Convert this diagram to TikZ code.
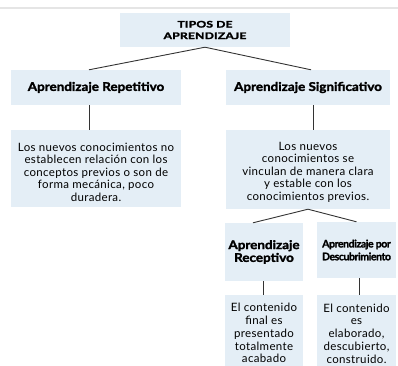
\documentclass[tikz,border=0pt]{standalone}
\usepackage{fontspec}
\setmainfont{Lato}
\newfontfamily\bodyfont[LetterSpace=3]{Lato}
\newfontfamily\heavyfont[FakeBold=2,FakeStretch=1.12]{Lato Bold}
\newfontfamily\titlefont[FakeBold=2.5,FakeStretch=1.35,LetterSpace=2]{Lato Bold}
\newfontfamily\narrowfont[FakeBold=1.5,LetterSpace=-4]{Lato Bold}
\definecolor{boxblue}{HTML}{E4EEF6}
\definecolor{linegray}{HTML}{333333}
\tikzset{
  panel/.style={fill=boxblue},
  box/.style={inner sep=2pt,align=center,font=\bodyfont\fontsize{11.5}{12.5}\selectfont},
  smallbox/.style={box,font=\bodyfont\fontsize{11.5}{12.8}\selectfont},
  head/.style={panel,box,font=\heavyfont\fontsize{12}{12.8}\selectfont},
  link/.style={draw=linegray,line width=0.9pt}
}
\begin{document}
\begin{tikzpicture}[x=1pt,y=-1pt]
\useasboundingbox (0,0) rectangle (398,365);
\clip (0,0) rectangle (398,365);
\draw[black!10,line width=1.5pt] (0,8) -- (398,8);

\node[panel,minimum width=170pt,minimum height=34pt] (tipos) at (205,30) {};
\node[align=center,font=\titlefont\fontsize{9}{11.5}\selectfont] (tipostext) at (205,30) {TIPOS DE\\APRENDIZAJE};
\node[head,minimum width=170pt,minimum height=35pt] (repet) at (96,87.5) {Aprendizaje Repetitivo};
\node[head,minimum width=164pt,minimum height=35pt] (signif) at (308,87.5) {Aprendizaje Significativo};

\node[panel,minimum width=170pt,minimum height=77pt] (repetdesc) at (96,168.5) {};
\node[box] (repettext) at (96,172) {Los nuevos conocimientos no\\establecen relación con los\\conceptos previos o son de\\forma mecánica, poco\\duradera.};
\node[panel,minimum width=164pt,minimum height=79pt] (signifdesc) at (308,169.5) {};
\node[box] (signiftext) at (308,172) {Los nuevos\\conocimientos se\\vinculan de manera clara\\y estable con los\\conocimientos previos.};

\node[head,minimum width=78pt,minimum height=58pt] (recep) at (264,252) {Aprendizaje\\Receptivo};
\node[head,minimum width=79pt,minimum height=56pt,font=\narrowfont\fontsize{10.5}{12.8}\selectfont] (descub) at (356.5,250) {Aprendizaje por\\Descubrimiento};

\node[panel,minimum width=78pt,minimum height=80pt] (recepdesc) at (264,335) {};
\node[smallbox] (receptext) at (264,333) {El contenido\\final es\\presentado\\totalmente\\acabado};
\node[panel,minimum width=79pt,minimum height=80pt] (descubdesc) at (356.5,335) {};
\node[smallbox] (descubtext) at (356.5,333.5) {El contenido\\es\\elaborado,\\descubierto,\\construido.};

\draw[link] (tipos.south) -- ([xshift=-7pt]repet.north);
\draw[link] (tipos.south) -- ([xshift=3pt]signif.north);
\draw[link] ([xshift=-7pt]repet.south) -- ([xshift=-7pt]repetdesc.north);
\draw[link] ([xshift=5pt]signif.south) -- ([xshift=5pt]signifdesc.north);
\draw[link] (signifdesc.south) -- ([xshift=-11pt]recep.north);
\draw[link] (signifdesc.south) -- (descub.north);
\draw[link] ([xshift=-1pt]recep.south) -- ([xshift=-1pt]recepdesc.north);
\draw[link] ([xshift=2.5pt]descub.south) -- ([xshift=2.5pt]descubdesc.north);
\end{tikzpicture}
\end{document}
